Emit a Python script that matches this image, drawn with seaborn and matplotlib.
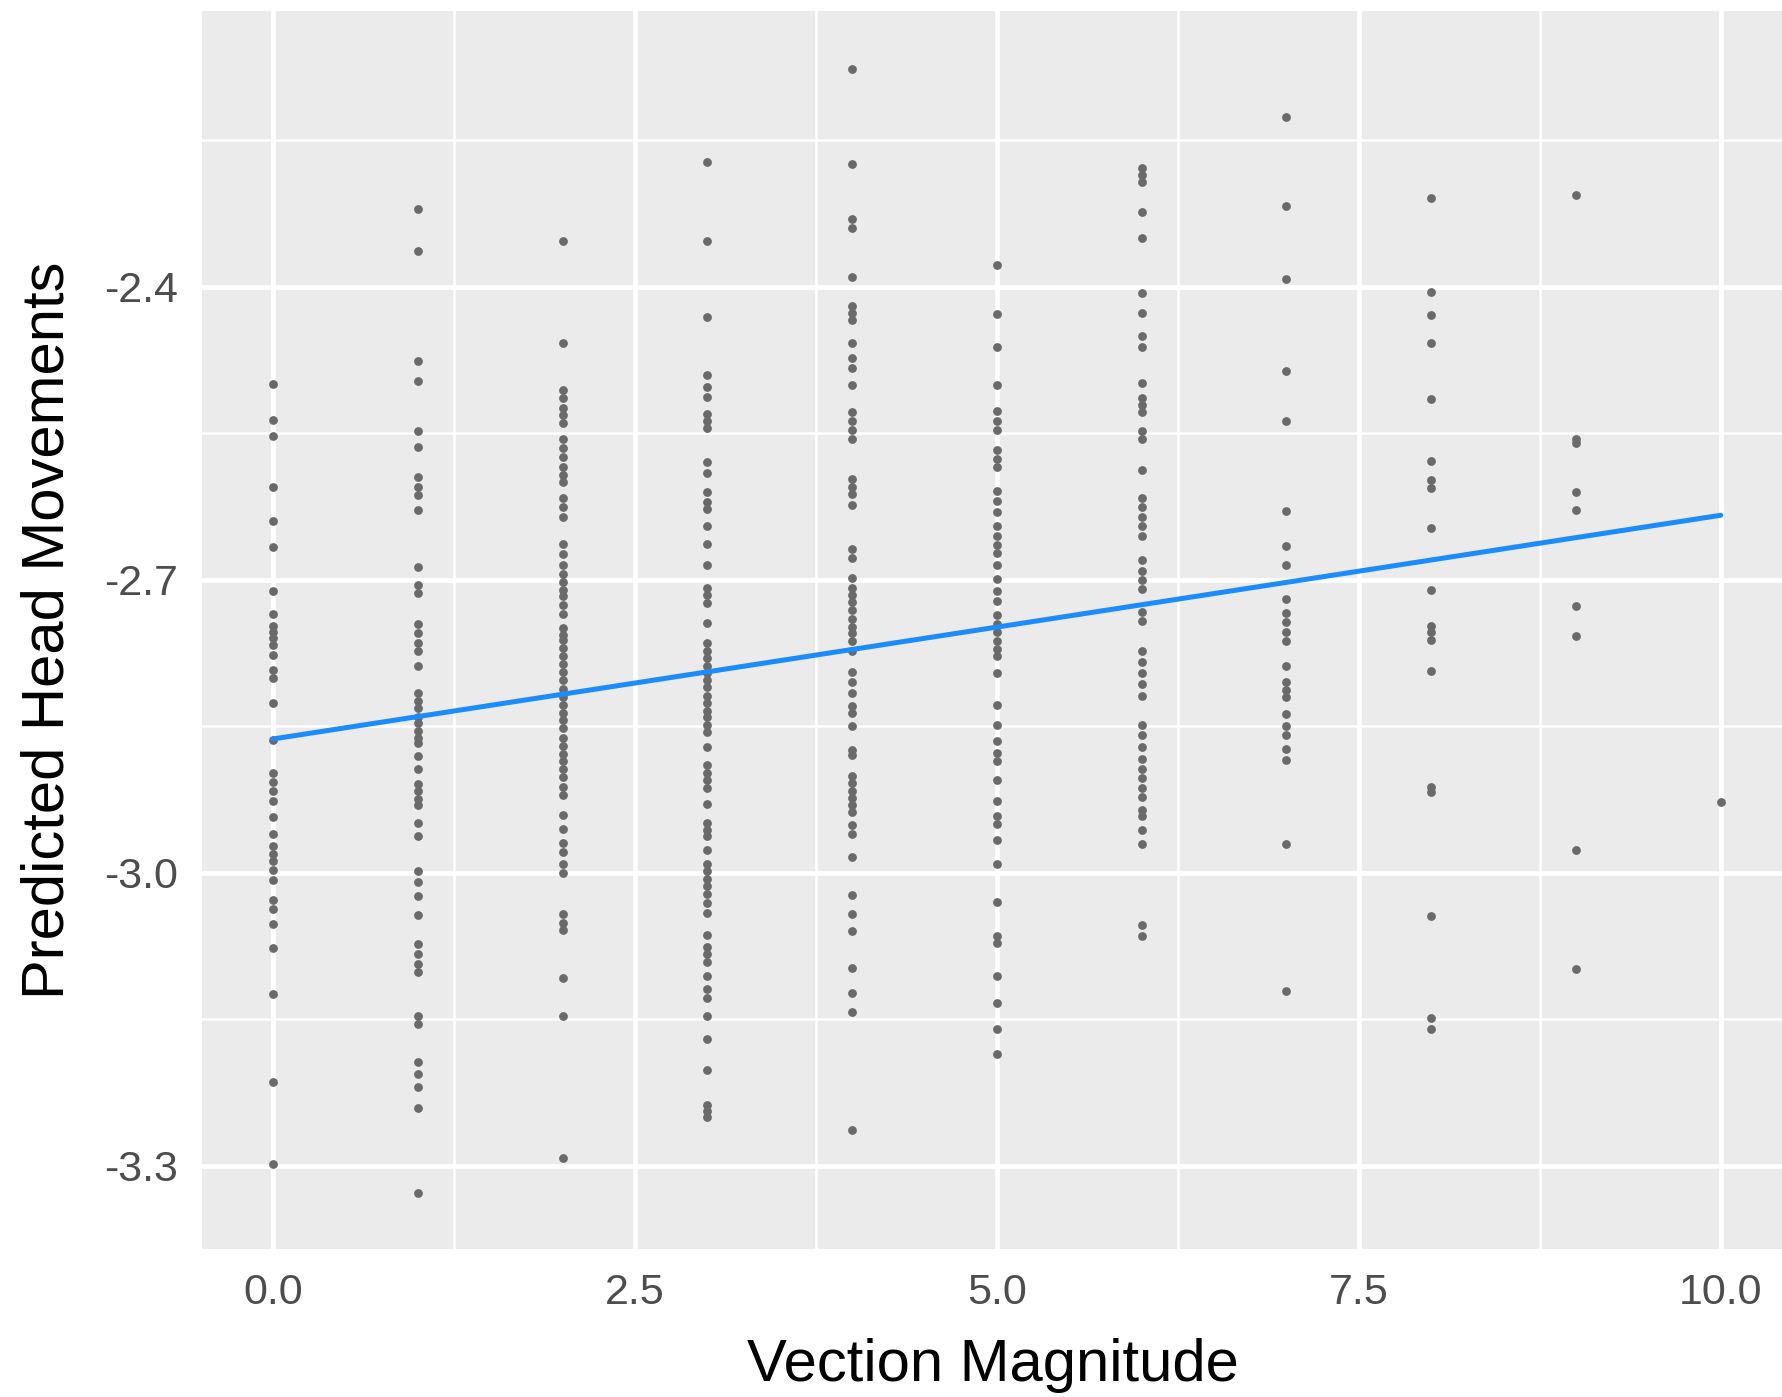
import numpy as np
import pandas as pd
import matplotlib
matplotlib.use("Agg")
import matplotlib.pyplot as plt
import seaborn as sns
from matplotlib.ticker import FixedLocator

# Predicted head movements for each vection magnitude rating (0-10)
hm_v0 = [-2.500, -2.536, -2.553, -2.605, -2.640, -2.666, -2.712, -2.735, -2.747, -2.753,
         -2.760, -2.767, -2.777, -2.792, -2.801, -2.826, -2.864, -2.898, -2.907, -2.916,
         -2.926, -2.943, -2.960, -2.973, -2.981, -2.988, -2.997, -3.007, -3.028, -3.037,
         -3.052, -3.077, -3.124, -3.214, -3.298]
hm_v1 = [-2.321, -2.363, -2.476, -2.497, -2.548, -2.564, -2.595, -2.605, -2.613, -2.629,
         -2.687, -2.705, -2.714, -2.745, -2.755, -2.765, -2.773, -2.788, -2.816, -2.824,
         -2.831, -2.840, -2.847, -2.855, -2.862, -2.867, -2.880, -2.894, -2.909, -2.916,
         -2.924, -2.931, -2.949, -2.962, -2.998, -3.009, -3.024, -3.043, -3.073, -3.083,
         -3.093, -3.102, -3.147, -3.155, -3.194, -3.206, -3.219, -3.241, -3.328]
hm_v2 = [-2.353, -2.458, -2.506, -2.514, -2.524, -2.531, -2.540, -2.556, -2.565, -2.574,
         -2.585, -2.593, -2.600, -2.616, -2.626, -2.636, -2.663, -2.674, -2.685, -2.694,
         -2.702, -2.710, -2.717, -2.726, -2.735, -2.749, -2.757, -2.762, -2.770, -2.778,
         -2.786, -2.794, -2.803, -2.812, -2.820, -2.828, -2.836, -2.844, -2.852, -2.862,
         -2.870, -2.878, -2.886, -2.894, -2.902, -2.912, -2.920, -2.941, -2.955, -2.969,
         -2.979, -2.991, -3.000, -3.042, -3.051, -3.059, -3.108, -3.147, -3.292]
hm_v3 = [-2.272, -2.353, -2.431, -2.490, -2.503, -2.513, -2.530, -2.538, -2.545, -2.579,
         -2.591, -2.610, -2.620, -2.628, -2.645, -2.663, -2.685, -2.708, -2.716, -2.724,
         -2.744, -2.765, -2.773, -2.780, -2.788, -2.795, -2.803, -2.810, -2.819, -2.826,
         -2.834, -2.841, -2.849, -2.856, -2.871, -2.890, -2.898, -2.905, -2.913, -2.930,
         -2.949, -2.956, -2.962, -2.977, -2.991, -2.998, -3.006, -3.013, -3.022, -3.031,
         -3.041, -3.064, -3.076, -3.083, -3.091, -3.106, -3.119, -3.128, -3.147, -3.170,
         -3.202, -3.238, -3.244, -3.250]
hm_v4 = [-2.177, -2.274, -2.331, -2.340, -2.390, -2.420, -2.427, -2.434, -2.458, -2.473,
         -2.483, -2.501, -2.528, -2.537, -2.547, -2.556, -2.597, -2.605, -2.612, -2.623,
         -2.669, -2.678, -2.698, -2.708, -2.716, -2.723, -2.731, -2.740, -2.748, -2.755,
         -2.763, -2.773, -2.794, -2.805, -2.816, -2.829, -2.836, -2.850, -2.874, -2.879,
         -2.901, -2.908, -2.916, -2.923, -2.931, -2.938, -2.951, -2.960, -2.984, -3.023,
         -3.042, -3.060, -3.097, -3.123, -3.142, -3.263]
hm_v5 = [-2.378, -2.428, -2.462, -2.501, -2.527, -2.537, -2.547, -2.567, -2.576, -2.585,
         -2.609, -2.619, -2.631, -2.645, -2.655, -2.664, -2.673, -2.685, -2.699, -2.712,
         -2.722, -2.736, -2.745, -2.753, -2.763, -2.771, -2.778, -2.795, -2.828, -2.849,
         -2.865, -2.877, -2.886, -2.905, -2.927, -2.942, -2.950, -2.966, -2.991, -3.030,
         -3.065, -3.072, -3.106, -3.133, -3.160, -3.185]
hm_v6 = [-2.279, -2.286, -2.293, -2.324, -2.350, -2.406, -2.427, -2.451, -2.462, -2.499,
         -2.514, -2.521, -2.528, -2.548, -2.556, -2.588, -2.616, -2.626, -2.636, -2.645,
         -2.655, -2.680, -2.691, -2.700, -2.709, -2.733, -2.742, -2.773, -2.784, -2.795,
         -2.807, -2.819, -2.849, -2.859, -2.871, -2.883, -2.894, -2.903, -2.913, -2.922,
         -2.936, -2.942, -2.956, -2.971, -3.053, -3.065]
hm_v7 = [-2.226, -2.317, -2.392, -2.486, -2.537, -2.630, -2.665, -2.685, -2.720, -2.734,
         -2.743, -2.753, -2.763, -2.788, -2.805, -2.813, -2.820, -2.837, -2.850, -2.859,
         -2.873, -2.885, -2.971, -3.121]
hm_v8 = [-2.309, -2.405, -2.429, -2.458, -2.515, -2.578, -2.598, -2.606, -2.647, -2.710,
         -2.747, -2.753, -2.762, -2.793, -2.912, -2.917, -3.044, -3.149, -3.160]
hm_v9 = [-2.306, -2.556, -2.560, -2.610, -2.629, -2.727, -2.758, -2.977, -3.098]
hm_v10 = [-2.928]

groups = [hm_v0, hm_v1, hm_v2, hm_v3, hm_v4, hm_v5, hm_v6, hm_v7, hm_v8, hm_v9, hm_v10]
vection = [v for v, g in enumerate(groups) for _ in g]
head = [h for g in groups for h in g]
df = pd.DataFrame({"Vection Magnitude": vection, "Predicted Head Movements": head})

# Fitted linear trend (end points of the regression line)
fit_x = [0.0, 10.0]
fit_y = [-2.863, -2.634]

x_ticks = [0.0, 2.5, 5.0, 7.5, 10.0]
x_tick_labels = ["0.0", "2.5", "5.0", "7.5", "10.0"]
y_ticks = [-3.3, -3.0, -2.7, -2.4]
y_tick_labels = ["-3.3", "-3.0", "-2.7", "-2.4"]

sns.set_theme(style="white")
plt.rcParams["font.family"] = ["Liberation Sans", "DejaVu Sans"]

fig = plt.figure(figsize=(17.83, 13.97), dpi=100)
ax = fig.add_axes([0.1133, 0.106, 0.8867, 0.886])
ax.set_facecolor("#EBEBEB")

sns.scatterplot(data=df, x="Vection Magnitude", y="Predicted Head Movements",
                color="#6A6A6A", s=40, linewidth=0, ax=ax, zorder=3)
sns.lineplot(x=fit_x, y=fit_y, color="#1A8CFF", linewidth=3.6, ax=ax, zorder=4)

ax.set_xlim(-0.49, 10.43)
ax.set_ylim(-3.385, -2.118)

ax.xaxis.set_major_locator(FixedLocator(x_ticks))
ax.set_xticklabels(x_tick_labels)
ax.yaxis.set_major_locator(FixedLocator(y_ticks))
ax.set_yticklabels(y_tick_labels)
ax.xaxis.set_minor_locator(FixedLocator([1.25, 3.75, 6.25, 8.75]))
ax.yaxis.set_minor_locator(FixedLocator([-3.15, -2.85, -2.55, -2.25]))

ax.grid(which="major", color="white", linewidth=3.4)
ax.grid(which="minor", color="white", linewidth=1.8)
ax.set_axisbelow(True)
for sp in ax.spines.values():
    sp.set_visible(False)

ax.tick_params(axis="both", which="major", length=7, width=1.6, color="#333333",
               labelsize=31, labelcolor="#4D4D4D", pad=10)
ax.tick_params(axis="both", which="minor", length=0)

ax.set_xlabel("Vection Magnitude", fontsize=43, color="black", va="center")
ax.set_ylabel("Predicted Head Movements", fontsize=43, color="black", va="center")
ax.xaxis.set_label_coords(0.5, -0.094)
ax.yaxis.set_label_coords(-0.0976, 0.5)

fig.savefig("out.png", dpi=100, facecolor="white")
